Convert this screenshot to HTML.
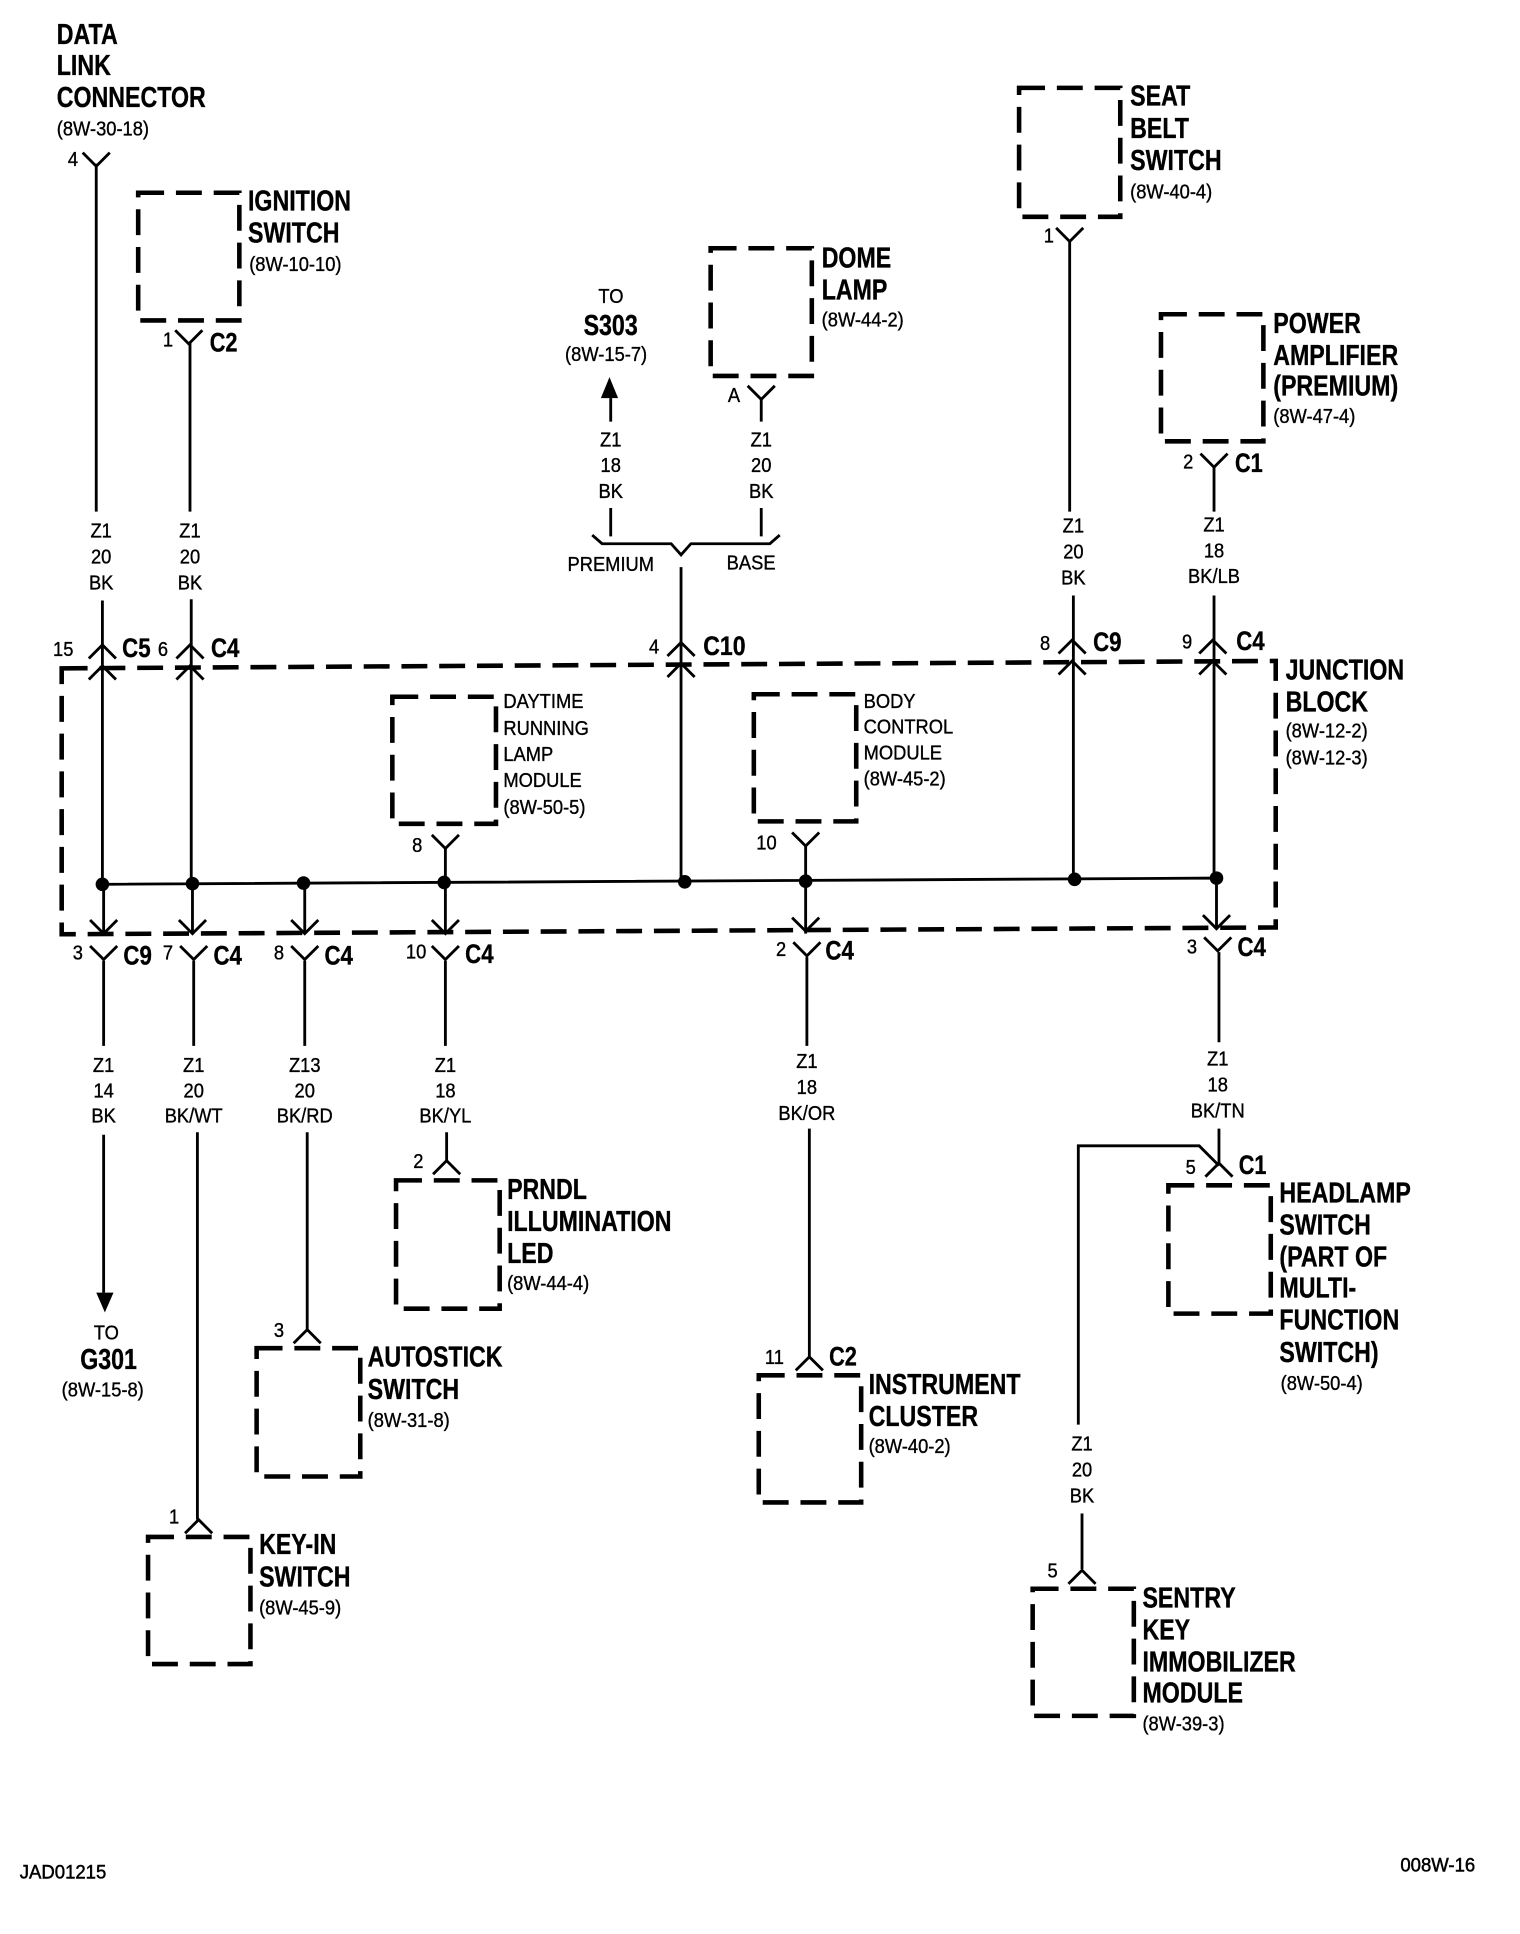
<!DOCTYPE html>
<html><head><meta charset="utf-8"><style>
html,body{margin:0;padding:0;background:#fff;width:1520px;height:1934px;overflow:hidden}
svg{display:block}
text{fill:#000;font-family:"Liberation Sans",sans-serif}
.b text,text.b{font-weight:700;font-size:23.5px;stroke:#000;stroke-width:.3}
.r text,text.r{font-size:16.5px;stroke:#000;stroke-width:.3;transform-box:fill-box;transform-origin:0 50%;transform:scaleX(.9)}
.c text{text-anchor:middle;transform-origin:50% 50%}
text.f{transform:scaleX(.97);stroke-width:.4;font-size:15.5px}
.w{fill:none;stroke:#000;stroke-width:2.3}
.d{fill:none;stroke:#000;stroke-width:3.7;stroke-dasharray:21 9.6}
</style></head><body>
<svg xmlns="http://www.w3.org/2000/svg" width="1520" height="1934" viewBox="0 0.3 1232 1567.5" preserveAspectRatio="none">
<defs>
<path id="y" d="M-11,-11 L0,0 L11,-11" fill="none" stroke="#000" stroke-width="2.3"/>
<path id="a" d="M-11,11 L0,0 L11,11" fill="none" stroke="#000" stroke-width="2.3"/>
</defs>

<!-- dashed boxes -->
<path class="d" d="M112,156.5 H194 V260 H112 Z"/>
<path class="d" d="M826,71.5 H908 V176 H826 Z"/>
<path class="d" d="M576,201.5 H658 V305 H576 Z"/>
<path class="d" d="M941,255 H1024 V358 H941 Z"/>
<path class="d" d="M318,565 H402 V668 H318 Z"/>
<path class="d" d="M611,563 H694 V666 H611 Z"/>
<path class="d" d="M50,542 L1034,536 V752 L50,757.5 Z"/>
<path class="d" d="M321,957 H405 V1061 H321 Z"/>
<path class="d" d="M208,1093 H292 V1197 H208 Z"/>
<path class="d" d="M120,1246 H203 V1349 H120 Z"/>
<path class="d" d="M615,1115 H698 V1218 H615 Z"/>
<path class="d" d="M947,961 H1030 V1065 H947 Z"/>
<path class="d" d="M837,1288 H919 V1391 H837 Z"/>

<!-- wires -->
<path class="w" d="M78,133 V415 M83,487 V717
M154,278 V415 M155,486 V716
M617,323 V342 M617,412 V435 M495,323 V342 M495,412 V435
M480,434 L488,441 H544 L552,450 L560,441 H624 L632,434
M552,460 V715
M867,196 V415 M870,483 V713
M984,379 V415 M984,483 V712
M361,688 V757 M653,686 V757
M83,717 L986,712
M84,717 V757 M156,716 V757 M247,716 V757 M986,712 V753
M84,779 V848 M84,920 V1048
M157,779 V848 M160,918 V1232
M247,779 V848 M249,918 V1078
M361,779 V848 M362,918 V941
M654,776 V848 M656,915 V1100
M988,772 V845 M988,915 V945
M988,945 L972,929 H874 V1155
M877,1227 V1272"/>

<!-- junction dots -->
<g fill="#000">
<circle cx="83" cy="717" r="5.5"/><circle cx="156" cy="716.5" r="5.5"/><circle cx="246" cy="716" r="5.5"/>
<circle cx="360" cy="715.5" r="5.5"/><circle cx="555" cy="715" r="5.5"/><circle cx="653" cy="714.5" r="5.5"/>
<circle cx="871" cy="713" r="5.5"/><circle cx="986" cy="712" r="5.5"/>
<path d="M78,1048 H92 L85,1064 Z"/><path d="M487,323 H501 L494,306 Z"/>
</g>

<!-- connectors -->
<use href="#y" x="78" y="135"/>
<use href="#y" x="153" y="279"/>
<use href="#y" x="617" y="324"/>
<use href="#y" x="867" y="196"/>
<use href="#y" x="984" y="379"/>
<use href="#y" x="361" y="688"/>
<use href="#y" x="653" y="686"/>

<use href="#a" x="83" y="523"/><use href="#a" x="83" y="540"/>
<use href="#a" x="154" y="523"/><use href="#a" x="154" y="540"/>
<use href="#a" x="552" y="521"/><use href="#a" x="552" y="538"/>
<use href="#a" x="869" y="519"/><use href="#a" x="869" y="536"/>
<use href="#a" x="983" y="519"/><use href="#a" x="983" y="536"/>

<use href="#y" x="84" y="757"/><use href="#y" x="156" y="757"/><use href="#y" x="247" y="757"/><use href="#y" x="361" y="757"/><use href="#y" x="653" y="755"/><use href="#y" x="986" y="753"/>
<use href="#y" x="84" y="778"/><use href="#y" x="157" y="778"/><use href="#y" x="247" y="778"/><use href="#y" x="361" y="778"/><use href="#y" x="654" y="775"/><use href="#y" x="987" y="771"/>

<use href="#a" x="362" y="941"/>
<use href="#a" x="249" y="1078"/>
<use href="#a" x="161" y="1232"/>
<use href="#a" x="656" y="1100"/>
<use href="#a" x="988" y="943"/>
<use href="#a" x="877" y="1273"/>

<!-- bold labels -->
<g class="b" transform="translate(46 0) scale(.8 1)"><text y="36">DATA</text><text y="61">LINK</text><text y="87">CONNECTOR</text></g>
<g class="b" transform="translate(201 0) scale(.8 1)"><text y="171">IGNITION</text><text y="197">SWITCH</text></g>
<g class="b" transform="translate(916 0) scale(.8 1)"><text y="86">SEAT</text><text y="112">BELT</text><text y="138">SWITCH</text></g>
<g class="b" transform="translate(666 0) scale(.8 1)"><text y="217">DOME</text><text y="243">LAMP</text></g>
<g class="b" transform="translate(1032 0) scale(.8 1)"><text y="270">POWER</text><text y="296">AMPLIFIER</text><text y="321">(PREMIUM)</text></g>
<g class="b" transform="translate(1042 0) scale(.8 1)"><text y="551">JUNCTION</text><text y="577">BLOCK</text></g>
<g class="b" transform="translate(411 0) scale(.8 1)"><text y="972">PRNDL</text><text y="998">ILLUMINATION</text><text y="1024">LED</text></g>
<g class="b" transform="translate(298 0) scale(.8 1)"><text y="1108">AUTOSTICK</text><text y="1134">SWITCH</text></g>
<g class="b" transform="translate(210 0) scale(.8 1)"><text y="1260">KEY-IN</text><text y="1286">SWITCH</text></g>
<g class="b" transform="translate(704 0) scale(.8 1)"><text y="1130">INSTRUMENT</text><text y="1156">CLUSTER</text></g>
<g class="b" transform="translate(1037 0) scale(.8 1)"><text y="975">HEADLAMP</text><text y="1001">SWITCH</text><text y="1027">(PART OF</text><text y="1052">MULTI-</text><text y="1078">FUNCTION</text><text y="1104">SWITCH)</text></g>
<g class="b" transform="translate(926 0) scale(.8 1)"><text y="1303">SENTRY</text><text y="1329">KEY</text><text y="1355">IMMOBILIZER</text><text y="1380">MODULE</text></g>
<g class="b" transform="translate(65 0) scale(.8 1)"><text y="1110">G301</text></g>
<g class="b" transform="translate(473 0) scale(.8 1)"><text y="272">S303</text></g>

<!-- connector names -->
<g class="b">
<g transform="translate(170 0) scale(.8 1)"><text style="font-size:22px" y="285">C2</text></g>
<g transform="translate(99 0) scale(.82 1)"><text style="font-size:22px" y="533">C5</text></g>
<g transform="translate(171 0) scale(.82 1)"><text style="font-size:22px" y="533">C4</text></g>
<g transform="translate(570 0) scale(.85 1)"><text style="font-size:22px" y="531">C10</text></g>
<g transform="translate(886 0) scale(.82 1)"><text style="font-size:22px" y="528">C9</text></g>
<g transform="translate(1002 0) scale(.82 1)"><text style="font-size:22px" y="527">C4</text></g>
<g transform="translate(1001 0) scale(.8 1)"><text style="font-size:22px" y="383">C1</text></g>
<g transform="translate(100 0) scale(.82 1)"><text style="font-size:22px" y="782">C9</text></g>
<g transform="translate(173 0) scale(.82 1)"><text style="font-size:22px" y="782">C4</text></g>
<g transform="translate(263 0) scale(.82 1)"><text style="font-size:22px" y="782">C4</text></g>
<g transform="translate(377 0) scale(.82 1)"><text style="font-size:22px" y="781">C4</text></g>
<g transform="translate(669 0) scale(.82 1)"><text style="font-size:22px" y="778">C4</text></g>
<g transform="translate(1003 0) scale(.82 1)"><text style="font-size:22px" y="775">C4</text></g>
<g transform="translate(1004 0) scale(.8 1)"><text style="font-size:22px" y="952">C1</text></g>
<g transform="translate(672 0) scale(.8 1)"><text style="font-size:22px" y="1107">C2</text></g>
</g>

<!-- references -->
<g class="r">
<text x="46" y="110">(8W-30-18)</text>
<text x="202" y="220">(8W-10-10)</text>
<text x="916" y="161">(8W-40-4)</text>
<text x="666" y="265">(8W-44-2)</text>
<text x="1032" y="343">(8W-47-4)</text>
<text x="1042" y="598">(8W-12-2)</text>
<text x="1042" y="620">(8W-12-3)</text>
<text x="411" y="1046">(8W-44-4)</text>
<text x="298" y="1157">(8W-31-8)</text>
<text x="210" y="1309">(8W-45-9)</text>
<text x="704" y="1178">(8W-40-2)</text>
<text x="1038" y="1127">(8W-50-4)</text>
<text x="926" y="1403">(8W-39-3)</text>
<text x="50" y="1132">(8W-15-8)</text>
<text x="458" y="293">(8W-15-7)</text>
<text x="76" y="1086">TO</text>
<text x="485" y="246">TO</text>

<text x="408" y="574">DAYTIME</text><text x="408" y="596">RUNNING</text><text x="408" y="617">LAMP</text><text x="408" y="638">MODULE</text><text x="408" y="660">(8W-50-5)</text>
<text x="700" y="574">BODY</text><text x="700" y="595">CONTROL</text><text x="700" y="616">MODULE</text><text x="700" y="637">(8W-45-2)</text>

<text x="460" y="463">PREMIUM</text><text x="589" y="462">BASE</text>

<!-- pin numbers -->
<text x="55" y="135">4</text><text x="132" y="281">1</text><text x="590" y="326">A</text>
<text x="846" y="197">1</text><text x="959" y="380">2</text>
<text x="43" y="532">15</text><text x="128" y="532">6</text><text x="526" y="530">4</text><text x="843" y="527">8</text><text x="958" y="526">9</text>
<text x="334" y="691">8</text><text x="613" y="689">10</text>
<text x="59" y="778">3</text><text x="132" y="778">7</text><text x="222" y="778">8</text><text x="329" y="777">10</text><text x="629" y="775">2</text><text x="962" y="773">3</text>
<text x="335" y="947">2</text><text x="222" y="1084">3</text><text x="137" y="1235">1</text><text x="620" y="1106">11</text><text x="961" y="952">5</text><text x="849" y="1279">5</text>
</g>

<!-- wire labels -->
<g class="r c">
<text x="82" y="436">Z1</text><text x="82" y="457">20</text><text x="82" y="478">BK</text>
<text x="154" y="436">Z1</text><text x="154" y="457">20</text><text x="154" y="478">BK</text>
<text x="495" y="362">Z1</text><text x="495" y="383">18</text><text x="495" y="404">BK</text>
<text x="617" y="362">Z1</text><text x="617" y="383">20</text><text x="617" y="404">BK</text>
<text x="870" y="432">Z1</text><text x="870" y="453">20</text><text x="870" y="474">BK</text>
<text x="984" y="431">Z1</text><text x="984" y="452">18</text><text x="984" y="473">BK/LB</text>
<text x="84" y="869">Z1</text><text x="84" y="890">14</text><text x="84" y="910">BK</text>
<text x="157" y="869">Z1</text><text x="157" y="890">20</text><text x="157" y="910">BK/WT</text>
<text x="247" y="869">Z13</text><text x="247" y="890">20</text><text x="247" y="910">BK/RD</text>
<text x="361" y="869">Z1</text><text x="361" y="890">18</text><text x="361" y="910">BK/YL</text>
<text x="654" y="866">Z1</text><text x="654" y="887">18</text><text x="654" y="908">BK/OR</text>
<text x="987" y="864">Z1</text><text x="987" y="885">18</text><text x="987" y="906">BK/TN</text>
<text x="877" y="1176">Z1</text><text x="877" y="1197">20</text><text x="877" y="1218">BK</text>
</g>

<g class="r">
<text class="f" x="16" y="1523">JAD01215</text>
<text class="f" x="1135" y="1517">008W-16</text>
</g>
</svg>
</body></html>
